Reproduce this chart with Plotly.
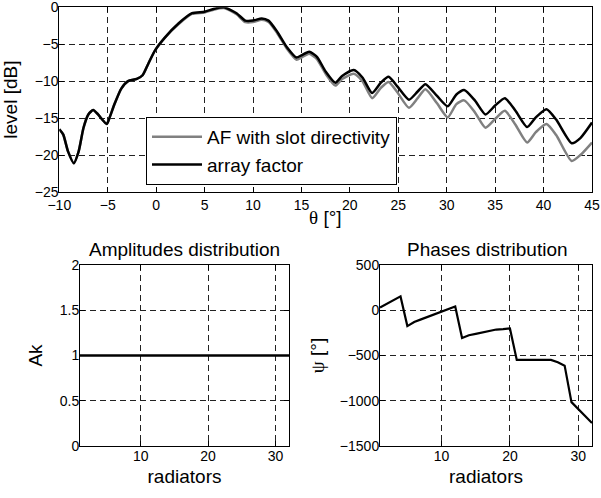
import plotly.graph_objects as go

# ---- data ----
theta = [-10, -9.6, -9.1, -8.5, -8.0, -7.5, -7.0, -6.5, -6.0, -5.1,
         -4.8, -4.3, -3.6, -2.9, -2.0, -1.4, -0.8, -0.1, 0.9, 2.3,
         3.7, 5.0, 6.0, 7.0, 8.3, 9.2, 10.0, 10.9, 11.6, 12.5,
         13.5, 14.5, 15.0, 15.8, 16.6, 17.5, 18.5, 19.2, 20.4, 21.3,
         22.3, 23.2, 24.0, 24.9, 26.1, 27.0, 27.8, 29.0, 30.1, 31.0,
         31.8, 32.9, 34.0, 35.0, 36.0, 37.1, 38.3, 39.2, 40.3, 41.3,
         42.9, 43.8, 45.0]

array_factor = [-16.5, -17.2, -19.5, -21.1, -19.5, -16.3, -14.5, -13.9, -14.5, -15.8,
                -14.9, -13.1, -11.0, -10.0, -9.7, -9.2, -7.6, -5.8, -4.1, -2.2,
                -0.8, -0.6, -0.2, 0.0, -0.8, -1.8, -1.8, -1.5, -1.8, -3.3,
                -5.4, -6.8, -6.5, -6.0, -6.7, -8.7, -10.2, -9.3, -8.5, -9.5,
                -11.6, -10.2, -9.4, -10.7, -12.5, -11.4, -10.4, -12.0, -13.4, -11.8,
                -11.2, -12.6, -14.5, -13.3, -12.3, -14.0, -16.2, -14.9, -13.8, -15.2,
                -18.4, -17.7, -15.6]

af_slot = [-16.5, -17.2, -19.5, -21.1, -19.5, -16.3, -14.5, -13.9, -14.5, -15.8,
           -14.9, -13.1, -11.0, -10.0, -9.7, -9.2, -7.6, -5.8, -4.1, -2.3,
           -0.9, -0.7, -0.3, -0.1, -0.95, -2.0, -2.0, -1.7, -2.0, -3.5,
           -5.6, -7.1, -6.8, -6.3, -7.0, -9.0, -10.6, -9.7, -9.0, -10.0,
           -12.3, -10.9, -10.1, -11.5, -13.6, -12.3, -11.1, -13.0, -14.9, -13.1,
           -12.6, -14.2, -16.3, -15.1, -14.0, -15.9, -18.3, -16.9, -15.8, -17.3,
           -20.8, -20.0, -18.3]

radiators = list(range(1, 33))
amplitudes = [1.0] * 32
phases = [30, 71, 112, 153, -175, -130, -101, -73, -44, -15,
          13, 41, -306, -276, -261, -244, -228, -213, -209, -201,
          -549, -549, -549, -549, -549, -549, -575, -612, -1015, -1090,
          -1164, -1246]

# ---- figure ----
W, H = 601, 498
def fx(px):
    return px / W
def fy(py):
    return 1 - py / H

FONT = "Liberation Sans, Arial, sans-serif"
TICKF = dict(family=FONT, size=14, color="black")
TITF = dict(family=FONT, size=19, color="black")

fig = go.Figure()
fig.add_trace(go.Scatter(x=theta, y=af_slot, mode="lines", name="AF with slot directivity",
                         line=dict(color="#808080", width=2.5, shape="spline", smoothing=0.6),
                         xaxis="x", yaxis="y"))
fig.add_trace(go.Scatter(x=theta, y=array_factor, mode="lines", name="array factor",
                         line=dict(color="black", width=2.5, shape="spline", smoothing=0.6),
                         xaxis="x", yaxis="y"))
fig.add_trace(go.Scatter(x=radiators, y=amplitudes, mode="lines", showlegend=False,
                         line=dict(color="black", width=2.5), xaxis="x2", yaxis="y2"))
fig.add_trace(go.Scatter(x=radiators, y=phases, mode="lines", showlegend=False,
                         line=dict(color="black", width=2.2), xaxis="x3", yaxis="y3"))

common = dict(showline=True, linecolor="black", linewidth=1, mirror="ticks",
              ticks="inside", ticklen=5, tickcolor="black", showgrid=True,
              gridcolor="#222", gridwidth=1, griddash="6px,4px", zeroline=False,
              tickfont=TICKF, automargin=False, ticklabeloverflow="allow")
xcommon = dict(common, ticklabelstandoff=-3)
ycommon = dict(common, ticklabelstandoff=-3)
xtop = dict(common, ticklabelstandoff=0)

fig.update_layout(
    width=W, height=H, margin=dict(l=0, r=0, t=0, b=0),
    paper_bgcolor="white", plot_bgcolor="white",
    font=dict(family=FONT, color="black"),
    xaxis=dict(domain=[fx(59.3), fx(592)], range=[-10, 45], tickvals=list(range(-10, 46, 5)),
               anchor="y", **xtop),
    yaxis=dict(domain=[fy(192), fy(7.3)], range=[-25, 0], tickvals=list(range(-25, 1, 5)),
               anchor="x",
               title=dict(text="level [dB]", font=TITF, standoff=12), **ycommon),
    xaxis2=dict(domain=[fx(80), fx(289)], range=[1, 32], tickvals=[10, 20, 30], anchor="y2",
                title=dict(text="radiators", font=TITF, standoff=6), **xcommon),
    yaxis2=dict(domain=[fy(446), fy(265)], range=[0, 2], tickvals=[0, 0.5, 1, 1.5, 2],
                ticktext=["0", "0.5", "1", "1.5", "2"], anchor="x2",
                title=dict(text="Ak", font=TITF, standoff=12), **ycommon),
    xaxis3=dict(domain=[fx(380), fx(592)], range=[1, 32], tickvals=[10, 20, 30], anchor="y3",
                title=dict(text="radiators", font=TITF, standoff=6), **xcommon),
    yaxis3=dict(domain=[fy(446), fy(265)], range=[-1500, 500],
                tickvals=[-1500, -1000, -500, 0, 500], anchor="x3",
                title=dict(text='<span style="font-family:Liberation Serif">ψ</span> [°]', font=TITF, standoff=10),
                **ycommon),
    legend=dict(x=fx(146), y=fy(117), xanchor="left", yanchor="top",
                bgcolor="white", bordercolor="black", borderwidth=1,
                font=dict(family=FONT, size=19, color="black"),
                itemwidth=50, tracegroupgap=0),
    annotations=[
        dict(text='<span style="font-family:Liberation Serif">θ</span> [°]', x=fx(325.5), y=fy(217),
             xref="paper", yref="paper", xanchor="center", yanchor="middle", showarrow=False, font=TITF),
        dict(text="Amplitudes distribution", x=fx(184.5), y=fy(249), xref="paper", yref="paper",
             xanchor="center", yanchor="middle", showarrow=False, font=TITF),
        dict(text="Phases distribution", x=fx(488), y=fy(249), xref="paper", yref="paper",
             xanchor="center", yanchor="middle", showarrow=False, font=TITF),
    ],
)

fig.write_html("out.html", config={"displayModeBar": False},
               post_script="document.body.style.margin='0';document.body.style.overflow='hidden';")
